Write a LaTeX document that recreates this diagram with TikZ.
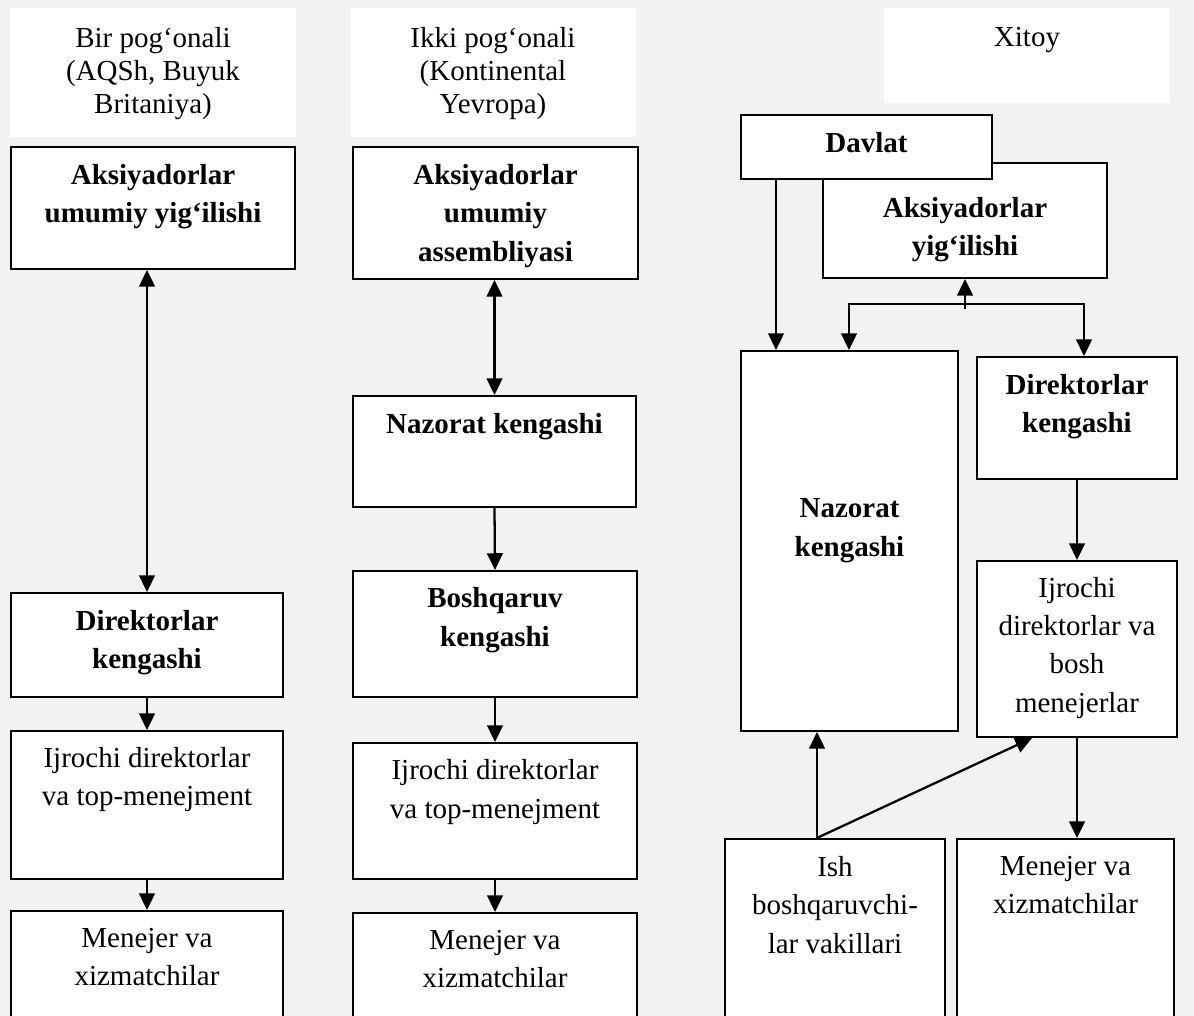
\documentclass[tikz,border=0pt]{standalone}
\usepackage{fontspec}
\setmainfont{Liberation Serif}
\usetikzlibrary{arrows.meta,positioning,fit}

\newcommand{\boxfont}{\fontsize{16.5}{21.8}\selectfont}
\newcommand{\headfont}{\fontsize{16.5}{18.7}\selectfont}
\definecolor{pagegray}{HTML}{F2F2F2}

\tikzset{
  box/.style={draw, line width=1.2pt, fill=white, inner sep=0pt},
  headbox/.style={fill=white, inner sep=0pt},
  lbl/.style={align=center, inner sep=0pt, font=\boxfont},
  blbl/.style={align=center, inner sep=0pt, font=\boxfont\bfseries},
  hlbl/.style={align=center, inner sep=0pt, font=\headfont},
  arr/.style={line width=1.3pt, -{Triangle[length=9.5pt,width=9pt]}},
  darr/.style={line width=1.3pt, {Triangle[length=9.5pt,width=9pt]}-{Triangle[length=9.5pt,width=9pt]}},
}

\begin{document}
\begin{tikzpicture}[x=0.02cm, y=-0.02cm]
  \clip (0,0) rectangle (1194,1016);
  \fill[pagegray] (0,0) rectangle (1194,1016);

  % bir pog'onali
  \node[headbox, fit={(10,8) (296,137)}] (h1) {}; \node[hlbl, below=11pt of h1.north] (h1t) {Bir pog‘onali\\(AQSh, Buyuk\\Britaniya)};
  \node[box, fit={(11,147) (295,269)}] (a1) {}; \node[blbl, below=10.3pt of a1.north] (a1t) {Aksiyadorlar\\umumiy yig‘ilishi};
  \node[box, fit={(11,593) (283,697)}] (d1) {}; \node[blbl, below=10.3pt of d1.north] (d1t) {Direktorlar\\kengashi};
  \node[box, fit={(11,731) (283,879)}] (i1) {}; \node[lbl, below=9.5pt of i1.north] (i1t) {Ijrochi direktorlar\\va top-menejment};
  \node[box, fit={(11,911) (283,1030)}] (m1) {}; \node[lbl, below=10pt of m1.north] (m1t) {Menejer va\\xizmatchilar};
  \draw[darr] (d1.north |- a1.south) -- (d1.north);
  \draw[arr] (d1.south) -- (i1.north);
  \draw[arr] (i1.south) -- (m1.north);

  % ikki pog'onali
  \node[headbox, fit={(350,8) (636,137)}] (h2) {}; \node[hlbl, below=11pt of h2.north] (h2t) {Ikki pog‘onali\\(Kontinental\\Yevropa)};
  \node[box, fit={(353,147) (638,279)}] (a2) {}; \node[blbl, below=10.3pt of a2.north] (a2t) {Aksiyadorlar\\umumiy\\assembliyasi};
  \node[box, fit={(353,396) (636,507)}] (n2) {}; \node[blbl, below=10.3pt of n2.north] (n2t) {Nazorat kengashi};
  \node[box, fit={(353,571) (637,697)}] (b2) {}; \node[blbl, below=10pt of b2.north] (b2t) {Boshqaruv\\kengashi};
  \node[box, fit={(353,743) (637,879)}] (i2) {}; \node[lbl, below=10pt of i2.north] (i2t) {Ijrochi direktorlar\\va top-menejment};
  \node[box, fit={(353,913) (637,1030)}] (m2) {}; \node[lbl, below=10pt of m2.north] (m2t) {Menejer va\\xizmatchilar};
  \draw[darr] (n2.north |- a2.south) -- (n2.north);
  \draw[arr] (n2.south) -- (b2.north);
  \draw[arr] (b2.south) -- (i2.north);
  \draw[arr] (i2.south) -- (m2.north);

  % xitoy
  \node[headbox, fit={(884,8) (1170,103)}] (h3) {}; \node[hlbl, below=11pt of h3.north] (h3t) {Xitoy};
  \node[box, fit={(823,163) (1107,278)}] (ayig) {}; \node[blbl, below=20pt of ayig.north] (ayigt) {Aksiyadorlar\\yig‘ilishi};
  \node[box, fit={(741,115) (992,179)}] (davlat) {}; \node[blbl, below=10.3pt of davlat.north] (davlatt) {Davlat};
  \node[box, fit={(741,351) (958,731)}] (n3) {}; \node[blbl, below=84.6pt of n3.north] (n3t) {Nazorat\\kengashi};
  \node[box, fit={(977,357) (1177,479)}] (d3) {}; \node[blbl, below=10.3pt of d3.north] (d3t) {Direktorlar\\kengashi};
  \node[box, fit={(977,561) (1177,737)}] (i3) {}; \node[lbl, below=9.5pt of i3.north] (i3t) {Ijrochi\\direktorlar va\\bosh\\menejerlar};
  \node[box, fit={(725,839) (945,1030)}] (ish) {}; \node[lbl, below=10.3pt of ish.north] (isht) {Ish\\boshqaruvchi-\\lar vakillari};
  \node[box, fit={(957,839) (1174,1030)}] (m3) {}; \node[lbl, below=10.3pt of m3.north] (m3t) {Menejer va\\xizmatchilar};

  \coordinate (dvx) at (776,0);
  \coordinate (bl) at (849,304); \coordinate (brr) at (1084,304); \coordinate (bm) at (965,309);
  \coordinate (ix) at (817,0); \coordinate (jx) at (1032,0);
  \draw[arr] (davlat.south -| dvx) -- (n3.north -| dvx);
  \draw[darr] (bl |- n3.north) -- (bl) -- (brr) -- (brr |- d3.north);
  \draw[arr] (bm) -- (ayig.south);
  \draw[arr] (d3.south) -- (i3.north);
  \draw[arr] (i3.south) -- (i3.south |- m3.north);
  \draw[arr] (ish.north -| ix) -- (n3.south -| ix);
  \draw[arr] (ish.north -| ix) -- (i3.south -| jx);
\end{tikzpicture}
\end{document}
